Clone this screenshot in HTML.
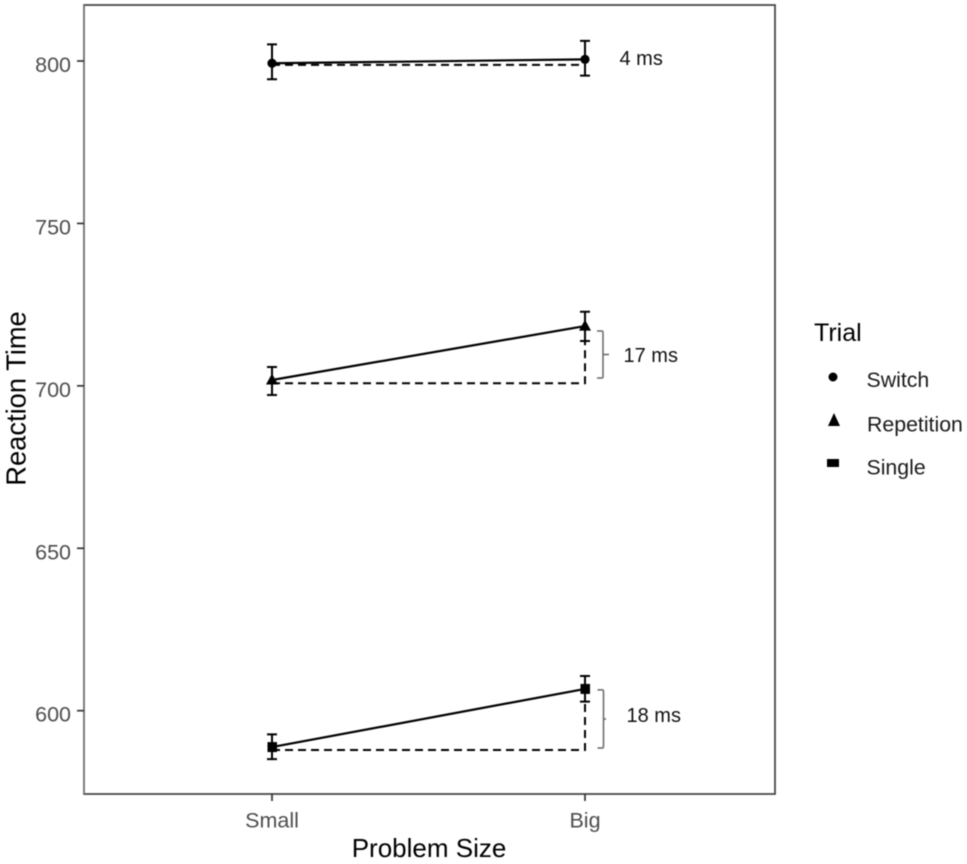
<!DOCTYPE html>
<html>
<head>
<meta charset="utf-8">
<title>Reaction Time by Problem Size</title>
<style>
html,body{margin:0;padding:0;background:#fff;}
svg{display:block;font-family:"Liberation Sans",sans-serif;}
#plot-root{filter:blur(0.4px);}
</style>
</head>
<body>
<svg id="chart" width="967" height="864" viewBox="0 0 967 864" xmlns="http://www.w3.org/2000/svg">
  <rect x="0" y="0" width="967" height="864" fill="#fff"/>
  <g id="plot-root">
  <g id="marks"></g>
  <rect x="84" y="5" width="691" height="789" fill="none" stroke="#3f3f3f" stroke-width="1.7"/>
  <line x1="84" y1="5" x2="84" y2="794" stroke="#7d7d7d" stroke-width="1.6"/>
  <g id="axes"></g>
  <text x="429" y="857" font-size="26" fill="#000" text-anchor="middle">Problem Size</text>
  <text transform="translate(25.5,398.5) rotate(-90)" font-size="27.3" fill="#000" text-anchor="middle">Reaction Time</text>
  <g>
    <text x="814" y="341" font-size="25" fill="#000">Trial</text>
    <circle cx="833" cy="377" r="4.5" fill="#000"/>
    <text x="866.5" y="387" font-size="21.3" fill="#1a1a1a">Switch</text>
    <polygon points="834,413 840,426 828,426" fill="#000"/>
    <text x="867" y="431.5" font-size="21.3" fill="#1a1a1a">Repetition</text>
    <rect x="827" y="459" width="12" height="8" fill="#000"/>
    <text x="866.5" y="474.5" font-size="21.3" fill="#1a1a1a">Single</text>
  </g>
  </g>
</svg>
<script>
var categories = ['Small', 'Big'];
var yTicks = [600, 650, 700, 750, 800];
var switchValues = [799.3, 800.5];
var switchUpper = [805.1, 806.2];
var switchLower = [794.4, 795.5];
var switchBaseline = [798.8, 798.8];
var repetitionValues = [701.8, 718.4];
var repetitionUpper = [705.8, 722.8];
var repetitionLower = [697.2, 713.8];
var repetitionBaseline = [700.8, 700.8];
var singleValues = [588.8, 606.7];
var singleUpper = [592.7, 610.7];
var singleLower = [585.1, 602.8];
var singleBaseline = [587.9, 587.9];
var seriesNames = ['switch', 'repetition', 'single'];
var effectLabels = ['4 ms', '17 ms', '18 ms'];
var repetitionBracket = [702.4, 716.9];
var singleBracket = [588.5, 606.4];

var NS = 'http://www.w3.org/2000/svg';
var marks = document.getElementById('marks');
var axes = document.getElementById('axes');

function yScale(v) { return 710.7 + (600 - v) * 3.2485; }
function xScale(i) { return 272 + i * 313; }

function make(tag, parent, attrs) {
  var el = document.createElementNS(NS, tag);
  for (var k in attrs) { el.setAttribute(k, attrs[k]); }
  parent.appendChild(el);
  return el;
}

yTicks.forEach(function (t) {
  var y = yScale(t);
  var tick = make('line', axes, { x1: 77, x2: 84, y1: y, y2: y, stroke: '#333', 'stroke-width': 1.7 });
  
  
  var label = make('text', axes, { x: 71, y: y + 11, 'font-size': 21.5, fill: '#4d4d4d', 'text-anchor': 'end' });
  
  
  label.textContent = t;
});

categories.forEach(function (c, i) {
  var x = xScale(i);
  var tick = make('line', axes, { x1: x, x2: x, y1: 794, y2: 801, stroke: '#333', 'stroke-width': 1.7 });
  
  
  var label = make('text', axes, { x: x, y: 827.5, 'font-size': 21.5, fill: '#4d4d4d', 'text-anchor': 'middle' });
  
  
  label.textContent = c;
});

function drawMarker(kind, x, y, parent) {
  var m;
  if (kind === 'switch') {
    m = make('circle', parent, { cx: x, cy: y, r: 4.6, fill: '#000' });
  } else if (kind === 'repetition') {
    m = make('polygon', parent, {
      points: x + ',' + (y - 6.5) + ' ' + (x + 6) + ',' + (y + 4.5) + ' ' + (x - 6) + ',' + (y + 4.5),
      fill: '#000'
    });
  } else {
    m = make('rect', parent, { x: x - 4.5, y: y - 5, width: 9.5, height: 10, fill: '#000' });
  }
  
  
}

function drawSeries(kind, values, upper, lower, baseline) {
  var g = make('g', marks, {});
  
  

  var dash = make('polyline', g, {
    points: xScale(0) + ',' + yScale(baseline[0]) + ' ' + xScale(1) + ',' + yScale(baseline[1]) + ' ' + xScale(1) + ',' + yScale(values[1]),
    fill: 'none', stroke: '#000', 'stroke-width': 2, 'stroke-dasharray': '8 5'
  });
  
  

  var line = make('line', g, {
    x1: xScale(0), y1: yScale(values[0]), x2: xScale(1), y2: yScale(values[1]),
    stroke: '#000', 'stroke-width': 2.2
  });
  
  

  values.forEach(function (v, i) {
    var x = xScale(i);
    var top = yScale(upper[i]);
    var bot = yScale(lower[i]);
    var eb = make('path', g, {
      d: 'M' + (x - 5) + ' ' + top + 'H' + (x + 5) + 'M' + x + ' ' + top + 'V' + bot + 'M' + (x - 5) + ' ' + bot + 'H' + (x + 5),
      fill: 'none', stroke: '#000', 'stroke-width': 2
    });
    
    
    drawMarker(kind, x, yScale(v), g);
  });
}

drawSeries(seriesNames[0], switchValues, switchUpper, switchLower, switchBaseline);
drawSeries(seriesNames[1], repetitionValues, repetitionUpper, repetitionLower, repetitionBaseline);
drawSeries(seriesNames[2], singleValues, singleUpper, singleLower, singleBaseline);

function drawBracket(range, x, tip) {
  var top = yScale(range[1]);
  var bot = yScale(range[0]);
  var mid = (top + bot) / 2;
  var b = make('path', marks, {
    d: 'M' + x + ' ' + top + 'H' + (x + 5) + 'Q' + (x + 6) + ' ' + top + ' ' + (x + 6) + ' ' + (top + 2) +
       'V' + (bot - 2) + 'Q' + (x + 6) + ' ' + bot + ' ' + (x + 5) + ' ' + bot + 'H' + x +
       'M' + (x + 6) + ' ' + mid + 'H' + (x + 6 + tip),
    fill: 'none', stroke: '#666', 'stroke-width': 1.5
  });
  
  
}
drawBracket(repetitionBracket, 597, 6);
drawBracket(singleBracket, 597.5, 2.5);

function drawEffect(text, x, y) {
  var t = make('text', marks, { x: x, y: y, 'font-size': 20, fill: '#111' });
  
  
  t.textContent = text;
}
drawEffect(effectLabels[0], 619.5, 65);
drawEffect(effectLabels[1], 623.5, 362);
drawEffect(effectLabels[2], 626.5, 722);
</script>
</body>
</html>
